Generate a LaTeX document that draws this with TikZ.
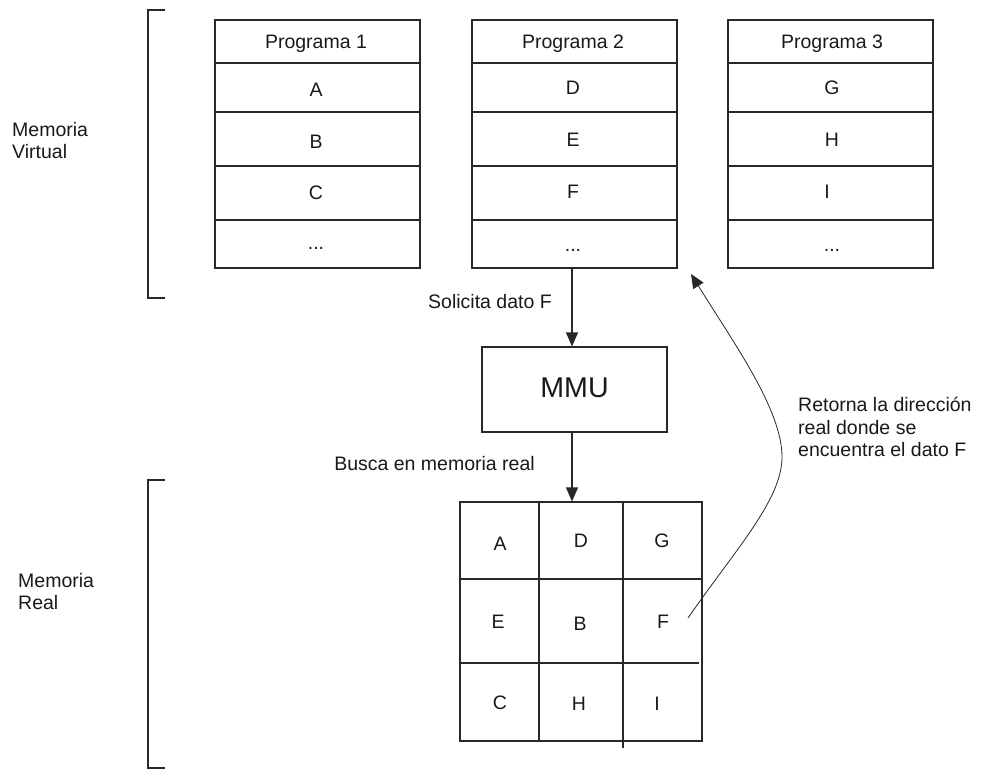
\documentclass[tikz,border=0pt]{standalone}
\usepackage{fontspec}
\setmainfont{Liberation Sans}
\usetikzlibrary{arrows.meta}
\definecolor{lin}{RGB}{40,40,40}
\definecolor{txt}{RGB}{25,25,25}
\tikzset{
  box/.style={draw=lin, line width=1.1pt, inner sep=0pt, fill=none},
  lbl/.style={text=txt, inner sep=0pt, anchor=base, font=\fontsize{19.5}{22.5}\selectfont},
  lbll/.style={text=txt, inner sep=0pt, anchor=north west, align=left, font=\fontsize{19.5}{22.5}\selectfont},
  sep/.style={draw=lin, line width=1.1pt},
  arr/.style={draw=lin, line width=1.1pt, -{Triangle[length=14pt,width=12pt]}},
  brk/.style={draw=lin, line width=1.1pt},
}
\begin{document}
\begin{tikzpicture}[x=1pt,y=-1pt]
\useasboundingbox (0,0) rectangle (984,778);

% brackets
\draw[brk] (165,10) -- (148,10) -- (148,298) -- (165,298);
\draw[brk] (165,480) -- (148,480) -- (148,768) -- (165,768);

\node[lbll] (mv) at (12,122) {Memoria\\Virtual};
\node[lbll] (mr) at (18,573) {Memoria\\Real};

% program boxes
\node[box, minimum width=205, minimum height=248] (p1) at (317.5,144) {};
\node[box, minimum width=205, minimum height=248] (p2) at (574.5,144) {};
\node[box, minimum width=205, minimum height=248] (p3) at (830.5,144) {};
\foreach \b in {p1,p2,p3}{
  \foreach \yy in {63,112,166,220}{
    \draw[sep] (\b.west |- 0,\yy) -- (\b.east |- 0,\yy);
  }
}
\node[lbl] (p1h) at (316,49) {Programa 1};
\node[lbl] (p1a) at (316,97) {A};
\node[lbl] (p1b) at (316,149) {B};
\node[lbl] (p1c) at (316,200) {C};
\node[lbl] (p1d) at (316,249) {...};

\node[lbl] (p2h) at (573,49) {Programa 2};
\node[lbl] (p2a) at (573,95) {D};
\node[lbl] (p2b) at (573,147) {E};
\node[lbl] (p2c) at (573,198) {F};
\node[lbl] (p2d) at (573,251) {...};

\node[lbl] (p3h) at (832,49) {Programa 3};
\node[lbl] (p3a) at (832,95) {G};
\node[lbl] (p3b) at (832,147) {H};
\node[lbl] (p3c) at (827,198) {I};
\node[lbl] (p3d) at (832,251) {...};

% MMU
\node[box, minimum width=185, minimum height=85] (mmu) at (574.5,389.5) {};
\node[lbl, font=\fontsize{28.6}{32}\selectfont] (mmut) at (574.5,397) {MMU};

% grid
\node[box, minimum width=242, minimum height=239] (g) at (581,621.5) {};
\draw[sep] (539,502) -- (539,741);
\draw[sep] (623,502) -- (623,748);
\draw[sep] (460,579) -- (702,579);
\draw[sep] (460,663) -- (699,663);
\node[lbl] (ga) at (500,550) {A};
\node[lbl] (gd) at (581,547) {D};
\node[lbl] (gg) at (662,547) {G};
\node[lbl] (ge) at (498,628) {E};
\node[lbl] (gb) at (580,630) {B};
\node[lbl] (gf) at (663,628) {F};
\node[lbl] (gc) at (500,709) {C};
\node[lbl] (gh) at (579,710) {H};
\node[lbl] (gi) at (657,710) {I};

% arrows
\draw[arr] ([xshift=-2.5pt]p2.south) -- ([xshift=-2.5pt]mmu.north);
\draw[arr] ([xshift=-2.5pt]mmu.south) -- ([xshift=-9pt]g.north);
\node[lbl] (sol) at (490,308) {Solicita dato F};
\node[lbl] (bus) at (434.5,470) {Busca en memoria real};

\coordinate (cs) at (688,618);
\coordinate (ce) at (691,274);
\draw[draw=lin, line width=0.8pt, -{Triangle[length=14pt,width=12pt]}]
  (cs) .. controls (735,550) and (782,500) .. (782,457)
       .. controls (782,410) and (735,345) .. (ce);
\node[lbll] (ret) at (798,397) {Retorna la dirección\\real donde se\\encuentra el dato F};
\end{tikzpicture}
\end{document}
